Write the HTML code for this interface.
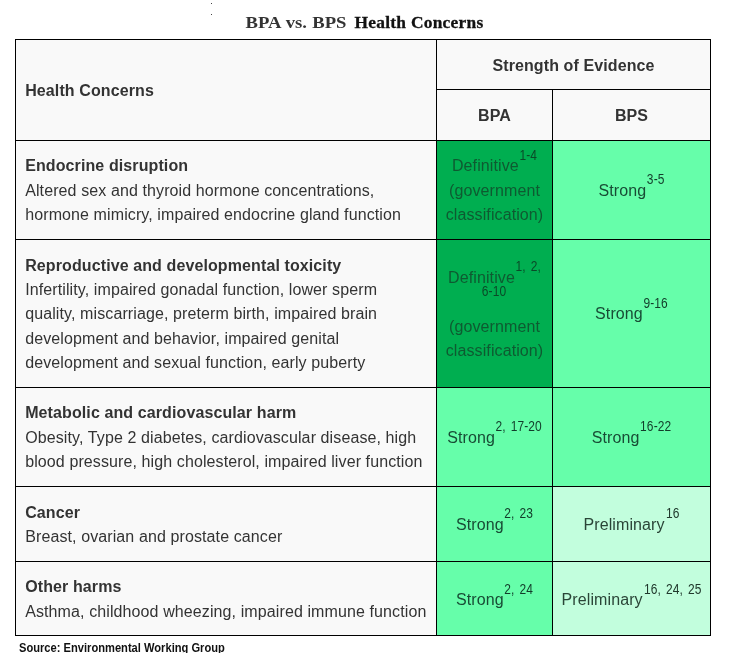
<!DOCTYPE html>
<html><head><meta charset="utf-8"><title>BPA vs. BPS Health Concerns</title>
<style>
html,body{margin:0;padding:0;background:#fff;}
body{width:730px;height:665px;position:relative;overflow:hidden;font-family:"Liberation Sans",sans-serif;color:#333;font-size:16px;line-height:24.3px;letter-spacing:0.105px;}
#grid{position:absolute;left:15px;top:39px;width:696px;height:597px;background:#000;}
.c>div{position:relative;top:1px;}
.c{position:absolute;background:#f9f9f9;box-sizing:border-box;white-space:nowrap;display:flex;align-items:center;}
.l{padding-left:9.2px;justify-content:flex-start;}
.m{justify-content:center;text-align:center;}
.h{font-weight:bold;}
.g1{background:#00ae50;color:#0e5a31;}
.g2{background:#66feaa;color:#184c35;}
.g3{background:#c2fedd;color:#2a4537;}
b{font-weight:bold;}
.u{position:relative;top:-1px;}
sup{display:inline-block;font-size:12px;line-height:0;vertical-align:baseline;position:relative;top:-12.6px;margin-left:0.6px;transform-origin:50% 50%;transform:scaleY(1.15);letter-spacing:0.1px;word-spacing:1.5px;}
.g1 sup{color:#0a4a28;}
.g2 sup{color:#123d2a;}
.g3 sup{color:#20382c;margin-left:1.4px;}
#title{position:absolute;left:0;top:10px;width:730px;height:24px;white-space:nowrap;line-height:24px;letter-spacing:0;}
#t1{position:absolute;left:245.6px;top:-0.5px;font-family:"Liberation Serif",serif;font-weight:bold;font-size:18.67px;color:#333;display:inline-block;transform-origin:0 76%;transform:scaleY(0.9);word-spacing:0.6px;}
#t2{position:absolute;left:354.5px;top:0;font-family:"Liberation Serif",serif;font-weight:bold;font-size:17.4px;letter-spacing:0.26px;color:#111;-webkit-text-stroke:0.3px #111;}
#src{position:absolute;left:19px;top:640px;height:13px;overflow:hidden;font-weight:bold;font-size:12px;line-height:16px;color:#111;white-space:nowrap;letter-spacing:0;transform-origin:0 0;transform:scaleX(0.928);}
</style></head><body>
<div id="title"><span id="t1">BPA vs. BPS</span> <span id="t2">Health Concerns</span></div>
<div style="position:absolute;left:211px;top:3px;width:1px;height:1px;background:#444"></div><div style="position:absolute;left:211px;top:14px;width:1px;height:1px;background:#444"></div>
<div id="grid"></div>

<div class="c l h" style="left:16px;top:40px;width:420px;height:100px"><div>Health Concerns</div></div>
<div class="c m h" style="left:437px;top:40px;width:273px;height:49px;padding-top:2px"><div>Strength of Evidence</div></div>
<div class="c m h" style="left:437px;top:90px;width:115px;height:50px"><div>BPA</div></div>
<div class="c m h" style="left:553px;top:90px;width:157px;height:50px"><div>BPS</div></div>

<div class="c l" style="left:16px;top:141px;width:420px;height:98px"><div><b class="u">Endocrine disruption</b><br>Altered sex and thyroid hormone concentrations,<br>hormone mimicry, impaired endocrine gland function</div></div>
<div class="c m g1" style="left:437px;top:141px;width:115px;height:98px"><div><span class="u">Definitive</span><sup>1-4</sup><br>(government<br>classification)</div></div>
<div class="c m g2" style="left:553px;top:141px;width:157px;height:98px"><div>Strong<sup>3-5</sup></div></div>

<div class="c l" style="left:16px;top:240px;width:420px;height:147px"><div><b>Reproductive and developmental toxicity</b><br>Infertility, impaired gonadal function, lower sperm<br>quality, miscarriage, preterm birth, impaired brain<br>development and behavior, impaired genital<br>development and sexual function, early puberty</div></div>
<div class="c m g1" style="left:437px;top:240px;width:115px;height:147px"><div>Definitive<sup>1, 2,</sup><br><sup style="margin-left:-1px">6-10</sup><br>(government<br>classification)</div></div>
<div class="c m g2" style="left:553px;top:240px;width:157px;height:147px"><div>Strong<sup>9-16</sup></div></div>

<div class="c l" style="left:16px;top:388px;width:420px;height:98px"><div><b class="u">Metabolic and cardiovascular harm</b><br>Obesity, Type 2 diabetes, cardiovascular disease, high<br>blood pressure, high cholesterol, impaired liver function</div></div>
<div class="c m g2" style="left:437px;top:388px;width:115px;height:98px"><div>Strong<sup>2, 17-20</sup></div></div>
<div class="c m g2" style="left:553px;top:388px;width:157px;height:98px"><div>Strong<sup>16-22</sup></div></div>

<div class="c l" style="left:16px;top:487px;width:420px;height:74px"><div><b>Cancer</b><br>Breast, ovarian and prostate cancer</div></div>
<div class="c m g2" style="left:437px;top:487px;width:115px;height:74px"><div>Strong<sup>2, 23</sup></div></div>
<div class="c m g3" style="left:553px;top:487px;width:157px;height:74px"><div><span style="letter-spacing:0.1px">Preliminary</span><sup>16</sup></div></div>

<div class="c l" style="left:16px;top:562px;width:420px;height:73px"><div><b>Other harms</b><br>Asthma, childhood wheezing, impaired immune function</div></div>
<div class="c m g2" style="left:437px;top:562px;width:115px;height:73px;padding-top:2px"><div>Strong<sup>2, 24</sup></div></div>
<div class="c m g3" style="left:553px;top:562px;width:157px;height:73px;padding-top:2px"><div><span style="letter-spacing:0.1px">Preliminary</span><sup>16, 24, 25</sup></div></div>

<div id="src">Source: Environmental Working Group</div>
</body></html>
